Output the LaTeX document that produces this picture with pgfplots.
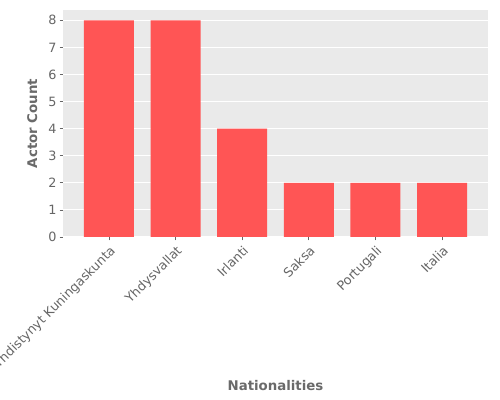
\documentclass[border=0pt]{standalone}
\usepackage{pgfplots}
\pgfplotsset{compat=1.18}
\usepackage{fontspec}
\setmainfont{DejaVu Sans}
\definecolor{barred}{HTML}{FF5555}
\definecolor{bg}{HTML}{EAEAEA}
\definecolor{txtgray}{HTML}{666666}
\definecolor{lblgray}{HTML}{6A6A6A}
\begin{document}
\begin{tikzpicture}
\begin{axis}[
  at={(0,0)}, anchor=south west,
  scale only axis,
  width=306pt, height=163.44pt,
  xmin=-0.69, xmax=5.69,
  ymin=0, ymax=8.38,
  axis background/.style={fill=bg},
  axis line style={draw=none},
  ybar, bar width=0.75, bar shift=0pt,
  xtick={0,1,2,3,4,5},
  xticklabels={Yhdistynyt Kuningaskunta,Yhdysvallat,Irlanti,Saksa,Portugali,Italia},
  ytick={0,1,...,8},
  ymajorgrids, grid style={white, line width=0.8pt},
  tick align=outside, major tick length=2.5pt,
  tick style={txtgray, line width=0.5pt},
  tick pos=left,
  /pgf/number format/assume math mode=true,
  ticklabel style={font=\fontsize{9.2}{10}\selectfont, text=txtgray},
  xticklabel style={rotate=45, anchor=north east, inner sep=2pt},
  yticklabel style={inner sep=2pt},
  xlabel={Nationalities}, ylabel={Actor Count},
  label style={font=\fontsize{9.6}{11}\selectfont\bfseries, text=lblgray},
  x label style={at={(axis description cs:0.5,-0.6565)}, anchor=center},
  y label style={at={(axis description cs:-0.072,0.5)}, anchor=center},
]
\addplot[fill=barred, draw=none] coordinates {(0,8) (1,8) (2,4) (3,2) (4,2) (5,2)};
\end{axis}
\pgfresetboundingbox
\path (-45.36pt,-117.36pt) rectangle (314.64pt,170.64pt);
\end{tikzpicture}
\end{document}
